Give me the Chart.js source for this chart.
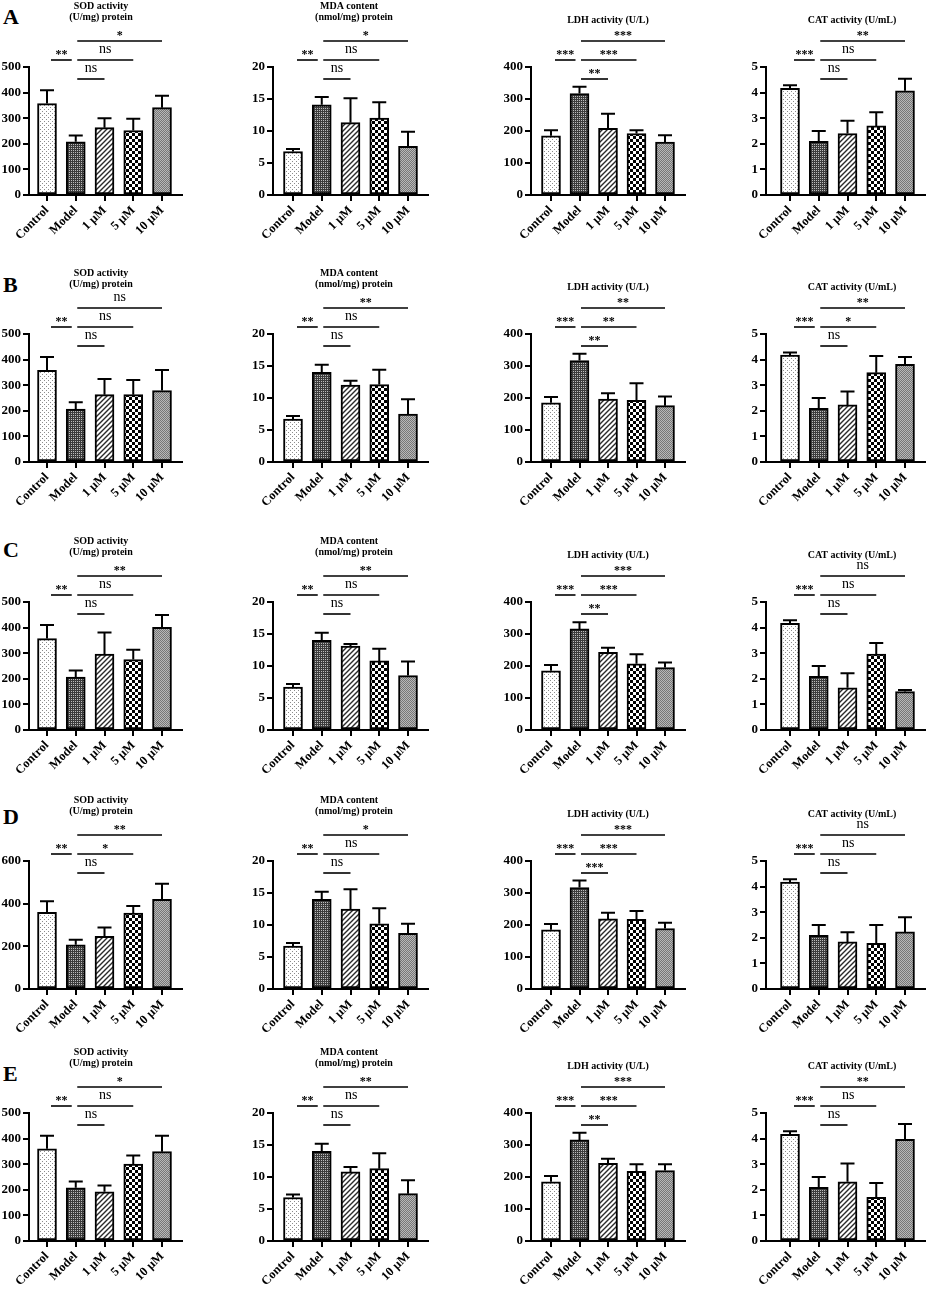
<!DOCTYPE html>
<html>
<head>
<meta charset="utf-8">
<script src="https://cdn.jsdelivr.net/npm/chart.js@4.4.0/dist/chart.umd.min.js"></script>
<style>
  body { margin: 0; background: #fff; width: 927px; height: 1289px; position: relative; overflow: hidden; }
  canvas.panel { position: absolute; }
  .letter { position: absolute; left: 3px; font: bold 22px "Liberation Serif", serif; line-height: 22px; color: #000; }
</style>
</head>
<body>
<script>
const groups = ['Control', 'Model', '1 μM', '5 μM', '10 μM'];
const rowLetters = ['A', 'B', 'C', 'D', 'E'];

// SOD activity (U/mg protein), rows A-E
const sodMeans = [
  [357, 208, 263, 252, 341],
  [358, 207, 263, 263, 279],
  [357, 207, 297, 275, 401],
  [359, 207, 247, 356, 420],
  [360, 208, 192, 300, 349]
];
const sodErrors = [
  [52, 24, 37, 46, 47],
  [52, 26, 61, 57, 80],
  [53, 25, 84, 38, 48],
  [52, 24, 41, 33, 73],
  [51, 24, 25, 34, 62]
];
const sodMax = [500, 500, 500, 600, 500];
const sodStep = [100, 100, 100, 200, 100];

// MDA content (nmol/mg protein)
const mdaMeans = [
  [6.8, 14.1, 11.3, 12.0, 7.6],
  [6.7, 14.0, 12.0, 12.1, 7.5],
  [6.7, 14.0, 13.1, 10.8, 8.5],
  [6.7, 14.0, 12.5, 10.2, 8.7],
  [6.8, 14.0, 10.8, 11.3, 7.4]
];
const mdaErrors = [
  [0.4, 1.2, 3.8, 2.5, 2.3],
  [0.5, 1.2, 0.7, 2.3, 2.3],
  [0.5, 1.2, 0.35, 1.9, 2.2],
  [0.5, 1.2, 3.1, 2.4, 1.5],
  [0.45, 1.2, 0.75, 2.4, 2.1]
];

// LDH activity (U/L)
const ldhMeans = [
  [185, 317, 208, 192, 165],
  [185, 317, 197, 193, 176],
  [185, 316, 243, 207, 195],
  [185, 317, 219, 218, 189],
  [185, 316, 243, 218, 220]
];
const ldhErrors = [
  [17, 21, 46, 10, 22],
  [18, 21, 18, 53, 29],
  [18, 21, 14, 30, 16],
  [18, 22, 19, 26, 18],
  [18, 22, 14, 22, 20]
];

// CAT activity (U/mL)
const catMeans = [
  [4.17, 2.1, 2.4, 2.7, 4.07],
  [4.18, 2.1, 2.23, 3.49, 3.82],
  [4.17, 2.1, 1.65, 2.97, 1.5],
  [4.18, 2.1, 1.84, 1.78, 2.23],
  [4.17, 2.1, 2.31, 1.71, 3.97]
];
const catErrors = [
  [0.12, 0.4, 0.5, 0.53, 0.47],
  [0.1, 0.4, 0.52, 0.65, 0.28],
  [0.12, 0.4, 0.57, 0.43, 0.06],
  [0.11, 0.4, 0.38, 0.72, 0.57],
  [0.12, 0.4, 0.72, 0.56, 0.6]
];

// significance: Control-Model, Model-1, Model-5, Model-10
const sodSig = [['**','ns','ns','*'], ['**','ns','ns','ns'], ['**','ns','ns','**'], ['**','ns','*','**'], ['**','ns','ns','*']];
const mdaSig = [['**','ns','ns','*'], ['**','ns','ns','**'], ['**','ns','ns','**'], ['**','ns','ns','*'], ['**','ns','ns','**']];
const ldhSig = [['***','**','***','***'], ['***','**','**','**'], ['***','**','***','***'], ['***','***','***','***'], ['***','**','***','***']];
const catSig = [['***','ns','ns','**'], ['***','ns','*','**'], ['***','ns','ns','ns'], ['***','ns','ns','ns'], ['***','ns','ns','**']];

// layout
const rowTop = [67, 334, 602, 861, 1113];
const letterTop = [6, 274, 539, 806, 1063];
const plotH = 128, padTop = 66, xAxisH = 60;
const FONT = '"Liberation Serif", "Times New Roman", serif';

const columns = [
  { title: ['SOD activity', '(U/mg) protein'], titleDx: [72, 72], titleDy: [-61, -50],
    axisX: 29, endX: 182, c0: 47, sp: 28.75, means: sodMeans, errors: sodErrors, sig: sodSig,
    max: r => sodMax[r], step: r => sodStep[r] },
  { title: ['MDA content', '(nmol/mg) protein'], titleDx: [76, 81], titleDy: [-61, -50],
    axisX: 273, endX: 428, c0: 293, sp: 28.75, means: mdaMeans, errors: mdaErrors, sig: mdaSig,
    max: () => 20, step: () => 5 },
  { title: ['LDH activity (U/L)'], titleDx: [77], titleDy: [-47],
    axisX: 531, endX: 685, c0: 551, sp: 28.5, means: ldhMeans, errors: ldhErrors, sig: ldhSig,
    max: () => 400, step: () => 100 },
  { title: ['CAT activity (U/mL)'], titleDx: [86], titleDy: [-47],
    axisX: 766, endX: 925, c0: 790, sp: 28.75, means: catMeans, errors: catErrors, sig: catSig,
    max: () => 5, step: () => 1 }
];

function makePattern(kind) {
  const c = document.createElement('canvas');
  const g = c.getContext('2d');
  if (kind === 'dots') {
    c.width = c.height = 4;
    g.fillStyle = '#fff'; g.fillRect(0, 0, 4, 4);
    g.fillStyle = '#8c8c8c'; g.fillRect(0, 0, 1, 1); g.fillRect(2, 2, 1, 1);
  } else if (kind === 'dark') {
    c.width = c.height = 2;
    g.fillStyle = '#3c3c3c'; g.fillRect(0, 0, 2, 2);
    g.fillStyle = '#bdbdbd'; g.fillRect(1, 1, 1, 1);
  } else if (kind === 'hatch') {
    c.width = c.height = 5;
    g.fillStyle = '#fff'; g.fillRect(0, 0, 5, 5);
    g.strokeStyle = '#2a2a2a'; g.lineWidth = 1.4;
    g.beginPath();
    g.moveTo(0, 5); g.lineTo(5, 0);
    g.moveTo(-1, 1); g.lineTo(1, -1);
    g.moveTo(4, 6); g.lineTo(6, 4);
    g.stroke();
  } else if (kind === 'checker') {
    c.width = c.height = 6;
    g.fillStyle = '#fff'; g.fillRect(0, 0, 6, 6);
    g.fillStyle = '#000'; g.fillRect(0, 0, 3, 3); g.fillRect(3, 3, 3, 3);
  } else {
    c.width = c.height = 2;
    g.fillStyle = '#b8b8b8'; g.fillRect(0, 0, 2, 2);
    g.fillStyle = '#777'; g.fillRect(0, 0, 1, 1); g.fillRect(1, 1, 1, 1);
  }
  return g.createPattern(c, 'repeat');
}
const fills = ['dots', 'dark', 'hatch', 'checker', 'gray'].map(makePattern);

const annotate = {
  id: 'annotate',
  afterDatasetsDraw(chart, args, o) {
    const { ctx, chartArea, scales: { x, y } } = chart;
    const meta = chart.getDatasetMeta(0);
    ctx.save();
    ctx.strokeStyle = '#000';
    ctx.fillStyle = '#000';
    // error bars (upper only)
    ctx.lineWidth = 2;
    meta.data.forEach((bar, i) => {
      const top = y.getPixelForValue(o.means[i] + o.errors[i]);
      ctx.beginPath();
      ctx.moveTo(bar.x, bar.y);
      ctx.lineTo(bar.x, top);
      ctx.moveTo(bar.x - 7, top);
      ctx.lineTo(bar.x + 7, top);
      ctx.stroke();
    });
    // significance brackets
    const brackets = [[0, 1, -7], [1, 2, 12], [1, 3, -7], [1, 4, -26]];
    ctx.lineWidth = 1.6;
    ctx.textAlign = 'center';
    ctx.textBaseline = 'alphabetic';
    brackets.forEach(([a, b, dy], k) => {
      const x1 = x.getPixelForValue(a) + (a === 0 ? 4 : 1.5);
      const x2 = x.getPixelForValue(b) - (a === 0 ? 4 : 0);
      const yy = chartArea.top + dy;
      ctx.beginPath();
      ctx.moveTo(x1, yy);
      ctx.lineTo(x2, yy);
      ctx.stroke();
      const label = o.sig[k];
      if (label === 'ns') {
        ctx.font = '14px ' + FONT;
        ctx.fillText(label, (x1 + x2) / 2, yy - 7);
      } else {
        ctx.font = 'bold 12px ' + FONT;
        ctx.fillText(label, (x1 + x2) / 2, yy - 2);
      }
    });
    // panel title
    ctx.font = 'bold 10px ' + FONT;
    ctx.textBaseline = 'middle';
    o.title.forEach((t, k) => ctx.fillText(t, chartArea.left + o.titleDx[k], chartArea.top + o.titleDy[k]));
    ctx.restore();
  }
};

rowLetters.forEach((letter, r) => {
  const d = document.createElement('div');
  d.className = 'letter';
  d.style.top = letterTop[r] + 'px';
  d.textContent = letter;
  document.body.appendChild(d);

  columns.forEach((col, c) => {
    const left = c === 0 ? 0 : col.axisX - 45;
    const yAxisW = col.axisX - left;
    const width = col.endX + 4 - left;
    const height = padTop + plotH + xAxisH;
    const canvas = document.createElement('canvas');
    canvas.className = 'panel';
    canvas.width = width;
    canvas.height = height;
    canvas.style.left = left + 'px';
    canvas.style.top = (rowTop[r] - padTop) + 'px';
    canvas.style.width = width + 'px';
    canvas.style.height = height + 'px';
    document.body.appendChild(canvas);

    const means = col.means[r];
    const errors = col.errors[r];
    const xMin = -(col.c0 - col.axisX) / col.sp;
    const xMax = 4 + (col.endX - (col.c0 + 4 * col.sp)) / col.sp;

    new Chart(canvas, {
      type: 'bar',
      data: {
        datasets: [{
          data: means.map((m, i) => ({ x: i, y: m })),
          backgroundColor: fills,
          borderColor: '#000',
          borderWidth: 2,
          borderSkipped: false,
          barThickness: 19
        }]
      },
      options: {
        responsive: false,
        animation: false,
        layout: { padding: { top: padTop, right: 4, left: 0, bottom: 0 } },
        plugins: {
          legend: { display: false },
          tooltip: { enabled: false },
          annotate: { means, errors, sig: col.sig[r], title: col.title, titleDx: col.titleDx, titleDy: col.titleDy }
        },
        scales: {
          x: {
            type: 'linear',
            min: xMin,
            max: xMax,
            offset: false,
            afterBuildTicks: s => { s.ticks = [0, 1, 2, 3, 4].map(v => ({ value: v })); },
            afterFit: s => { s.height = xAxisH; s.paddingLeft = 0; s.paddingRight = 0; },
            ticks: {
              autoSkip: false,
              minRotation: 45,
              maxRotation: 45,
              padding: 2,
              color: '#000',
              font: { family: FONT, size: 12.5, weight: 'bold' },
              callback: v => groups[v]
            },
            grid: { offset: false, drawOnChartArea: false, tickLength: 6, color: '#000', lineWidth: 2 },
            border: { display: true, color: '#000', width: 2 }
          },
          y: {
            min: 0,
            max: col.max(r),
            afterFit: s => { s.width = yAxisW; },
            ticks: {
              stepSize: col.step(r),
              padding: 2,
              color: '#000',
              font: { family: FONT, size: 13, weight: 'bold' }
            },
            grid: { drawOnChartArea: false, tickLength: 6, color: '#000', lineWidth: 2 },
            border: { display: true, color: '#000', width: 2 }
          }
        }
      },
      plugins: [annotate]
    });
  });
});
</script>
</body>
</html>
